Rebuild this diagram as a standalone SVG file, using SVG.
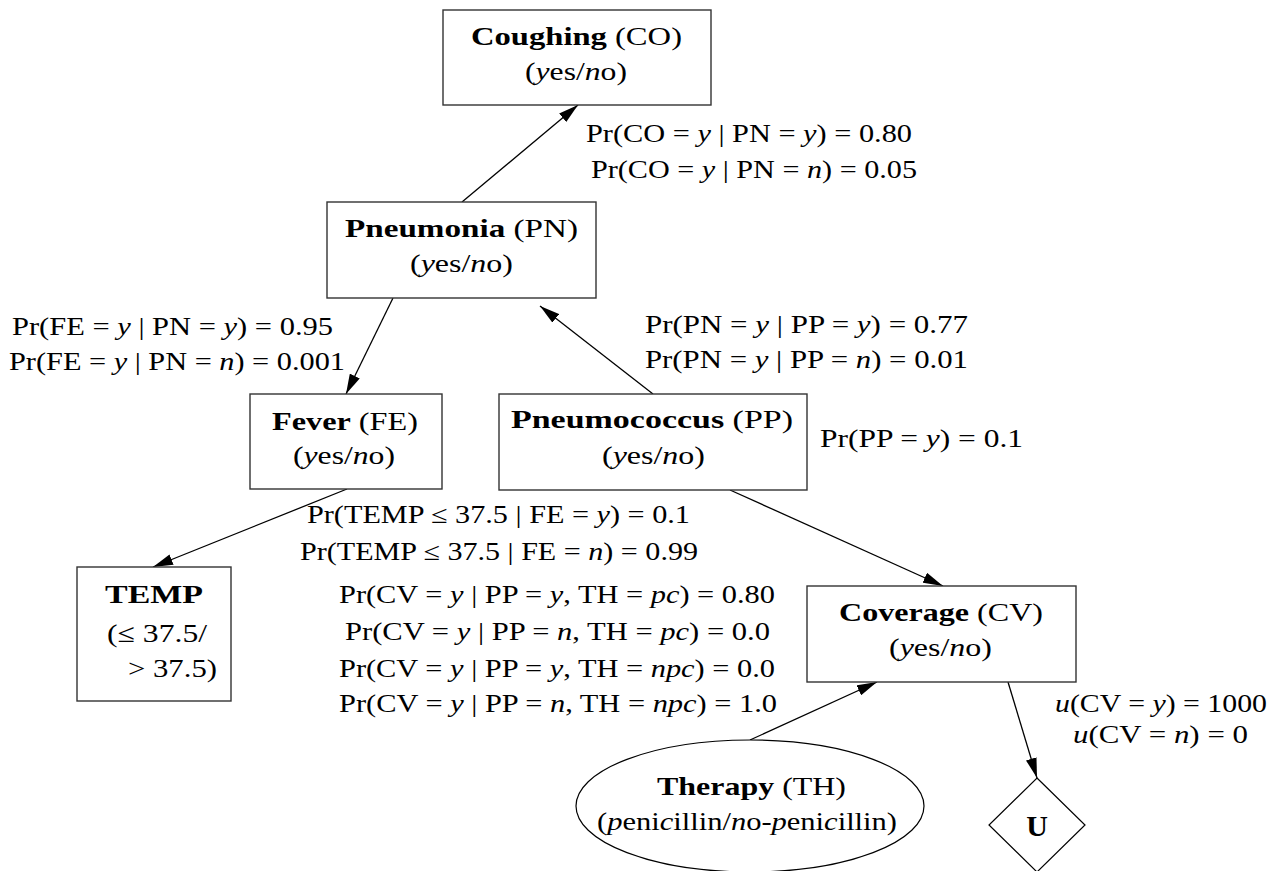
<svg xmlns="http://www.w3.org/2000/svg" width="1270" height="871" viewBox="0 0 1270 871">
  <style>
    text { font-family: "Liberation Serif", "DejaVu Serif", serif; fill: #000; }
    .nl { font-size: 26px; }
    .el { font-size: 25px; }
    .b { font-weight: bold; }
    .i { font-style: italic; }
    .shape { fill: #fff; stroke: #333; stroke-width: 1.4; }
    .edge { fill: none; stroke: #000; stroke-width: 1.3; marker-end: url(#arrow); }
  </style>
  <defs>
    <marker id="arrow" markerUnits="userSpaceOnUse" markerWidth="20" markerHeight="11" refX="20" refY="5.5" orient="auto">
      <path d="M0,0 L20,5.5 L0,11 z" fill="#000"/>
    </marker>
  </defs>
  <rect width="1270" height="871" fill="#fff"/>

  <!-- connectors -->
  <g id="edges">
    <line class="edge" x1="462" y1="202" x2="578" y2="105"/>
    <line class="edge" x1="393" y1="298" x2="346" y2="394"/>
    <line class="edge" x1="653" y1="394" x2="540" y2="306"/>
    <line class="edge" x1="347" y1="489" x2="153" y2="567"/>
    <line class="edge" x1="730" y1="490" x2="943" y2="586"/>
    <line class="edge" x1="750" y1="740" x2="877" y2="682"/>
    <line class="edge" x1="1008" y1="682" x2="1037" y2="778"/>
  </g>

  <!-- edge labels -->
  <g id="edge-labels" class="el">
    <text x="586" y="142" textLength="326" lengthAdjust="spacingAndGlyphs">Pr(CO = <tspan class="i">y</tspan> | PN = <tspan class="i">y</tspan>) = 0.80</text>
    <text x="591" y="178" textLength="326" lengthAdjust="spacingAndGlyphs">Pr(CO = <tspan class="i">y</tspan> | PN = <tspan class="i">n</tspan>) = 0.05</text>

    <text x="12" y="335" textLength="321" lengthAdjust="spacingAndGlyphs">Pr(FE = <tspan class="i">y</tspan> | PN = <tspan class="i">y</tspan>) = 0.95</text>
    <text x="9" y="370" textLength="336" lengthAdjust="spacingAndGlyphs">Pr(FE = <tspan class="i">y</tspan> | PN = <tspan class="i">n</tspan>) = 0.001</text>

    <text x="645" y="333" textLength="323" lengthAdjust="spacingAndGlyphs">Pr(PN = <tspan class="i">y</tspan> | PP = <tspan class="i">y</tspan>) = 0.77</text>
    <text x="645" y="368" textLength="323" lengthAdjust="spacingAndGlyphs">Pr(PN = <tspan class="i">y</tspan> | PP = <tspan class="i">n</tspan>) = 0.01</text>

    <text x="820" y="447" textLength="203" lengthAdjust="spacingAndGlyphs">Pr(PP = <tspan class="i">y</tspan>) = 0.1</text>

    <text x="307" y="523" textLength="383" lengthAdjust="spacingAndGlyphs">Pr(TEMP ≤ 37.5 | FE = <tspan class="i">y</tspan>) = 0.1</text>
    <text x="300" y="560" textLength="398" lengthAdjust="spacingAndGlyphs">Pr(TEMP ≤ 37.5 | FE = <tspan class="i">n</tspan>) = 0.99</text>

    <text x="339" y="603" textLength="436" lengthAdjust="spacingAndGlyphs">Pr(CV = <tspan class="i">y</tspan> | PP = <tspan class="i">y</tspan>, TH = <tspan class="i">pc</tspan>) = 0.80</text>
    <text x="345" y="640" textLength="425" lengthAdjust="spacingAndGlyphs">Pr(CV = <tspan class="i">y</tspan> | PP = <tspan class="i">n</tspan>, TH = <tspan class="i">pc</tspan>) = 0.0</text>
    <text x="339" y="677" textLength="436" lengthAdjust="spacingAndGlyphs">Pr(CV = <tspan class="i">y</tspan> | PP = <tspan class="i">y</tspan>, TH = <tspan class="i">npc</tspan>) = 0.0</text>
    <text x="339" y="712" textLength="438" lengthAdjust="spacingAndGlyphs">Pr(CV = <tspan class="i">y</tspan> | PP = <tspan class="i">n</tspan>, TH = <tspan class="i">npc</tspan>) = 1.0</text>

    <text x="1055" y="712" textLength="212" lengthAdjust="spacingAndGlyphs"><tspan class="i">u</tspan>(CV = <tspan class="i">y</tspan>) = 1000</text>
    <text x="1073" y="743" textLength="175" lengthAdjust="spacingAndGlyphs"><tspan class="i">u</tspan>(CV = <tspan class="i">n</tspan>) = 0</text>
  </g>

  <!-- Coughing -->
  <g id="node-CO" class="nl">
    <rect class="shape" x="443" y="10" width="268" height="95"/>
    <text x="471" y="45" textLength="211" lengthAdjust="spacingAndGlyphs"><tspan class="b">Coughing</tspan> (CO)</text>
    <text x="525" y="80" textLength="102" lengthAdjust="spacingAndGlyphs">(<tspan class="i">y</tspan>es/<tspan class="i">n</tspan>o)</text>
  </g>

  <!-- Pneumonia -->
  <g id="node-PN" class="nl">
    <rect class="shape" x="327" y="202" width="269" height="96"/>
    <text x="345" y="237" textLength="233" lengthAdjust="spacingAndGlyphs"><tspan class="b">Pneumonia</tspan> (PN)</text>
    <text x="410" y="272" textLength="103" lengthAdjust="spacingAndGlyphs">(<tspan class="i">y</tspan>es/<tspan class="i">n</tspan>o)</text>
  </g>

  <!-- Fever -->
  <g id="node-FE" class="nl">
    <rect class="shape" x="250" y="394" width="192" height="95"/>
    <text x="272" y="430" textLength="146" lengthAdjust="spacingAndGlyphs"><tspan class="b">Fever</tspan> (FE)</text>
    <text x="293" y="464" textLength="102" lengthAdjust="spacingAndGlyphs">(<tspan class="i">y</tspan>es/<tspan class="i">n</tspan>o)</text>
  </g>

  <!-- Pneumococcus -->
  <g id="node-PP" class="nl">
    <rect class="shape" x="499" y="394" width="308" height="96"/>
    <text x="511" y="428" textLength="282" lengthAdjust="spacingAndGlyphs"><tspan class="b">Pneumococcus</tspan> (PP)</text>
    <text x="602" y="464" textLength="103" lengthAdjust="spacingAndGlyphs">(<tspan class="i">y</tspan>es/<tspan class="i">n</tspan>o)</text>
  </g>

  <!-- TEMP -->
  <g id="node-TEMP" class="nl">
    <rect class="shape" x="77" y="567" width="154" height="134"/>
    <text x="105" y="603" textLength="98" lengthAdjust="spacingAndGlyphs" class="b">TEMP</text>
    <text x="107" y="642" textLength="100" lengthAdjust="spacingAndGlyphs">(≤ 37.5/</text>
    <text x="128" y="677" textLength="89" lengthAdjust="spacingAndGlyphs">&gt; 37.5)</text>
  </g>

  <!-- Coverage -->
  <g id="node-CV" class="nl">
    <rect class="shape" x="807" y="586" width="269" height="96"/>
    <text x="839" y="621" textLength="204" lengthAdjust="spacingAndGlyphs"><tspan class="b">Coverage</tspan> (CV)</text>
    <text x="889" y="656" textLength="103" lengthAdjust="spacingAndGlyphs">(<tspan class="i">y</tspan>es/<tspan class="i">n</tspan>o)</text>
  </g>

  <!-- Therapy (decision) -->
  <g id="node-TH" class="nl">
    <ellipse class="shape" cx="750" cy="806" rx="174" ry="66" style="stroke:#000;stroke-width:1.2"/>
    <text x="657" y="795" textLength="189" lengthAdjust="spacingAndGlyphs"><tspan class="b">Therapy</tspan> (TH)</text>
    <text x="597" y="830" textLength="300" lengthAdjust="spacingAndGlyphs">(<tspan class="i">p</tspan>eni<tspan class="i">c</tspan>illin/<tspan class="i">n</tspan>o-<tspan class="i">p</tspan>eni<tspan class="i">c</tspan>illin)</text>
  </g>

  <!-- Utility -->
  <g id="node-U" class="nl">
    <polygon class="shape" points="1037,778 1085,825 1037,872 989,825" style="stroke:#000;stroke-width:1.2"/>
    <text x="1037" y="836" text-anchor="middle" class="b" style="font-size:30px">U</text>
  </g>
</svg>
